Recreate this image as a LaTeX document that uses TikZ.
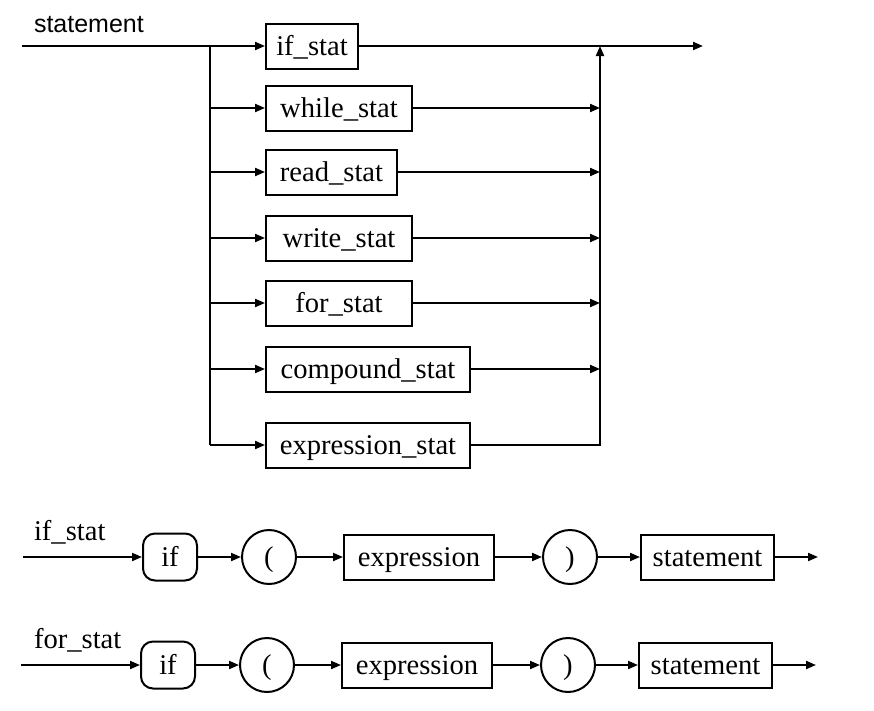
\documentclass[tikz,border=0pt]{standalone}
\usepackage{fontspec}
\setmainfont{Liberation Serif}
\setsansfont{Liberation Sans}
\usetikzlibrary{arrows.meta}
\tikzset{
    RA/.style ={rectangle,minimum width = #1, minimum height = 45pt, draw},
    CC/.style ={circle,minimum size = 54pt, draw},
    RR/.style ={rectangle,rounded corners=12pt,minimum width = 54pt, minimum height = 47pt, draw},
    AR/.style ={-{Triangle[length=10pt,width=8pt]}}}

\begin{document}
\begin{tikzpicture}[x=1pt,y=-1pt,line width=2pt,
    every node/.style={font=\fontsize{28.6}{34}\selectfont,text height=19.5pt,text depth=0pt,inner sep=0pt}]
        \useasboundingbox (0,0) rectangle (874,710);
        \node[anchor=base west,font=\sffamily\fontsize{25}{30}\selectfont] (lbl) at (33,32) {statement};
        \coordinate (in) at (22,46);
        \coordinate (sp) at (210,46);
        \coordinate (jn) at (600,46);
        \coordinate (out) at (703,46);
        \node[RA=92pt] (if) at (312,46) {if\_stat};
        \node[RA=146pt] (while) at (339,108) {while\_stat};
        \node[RA=131pt] (read) at (331.5,172) {read\_stat};
        \node[RA=146pt] (write) at (339,238) {write\_stat};
        \node[RA=146pt] (for) at (339,303) {for\_stat};
        \node[RA=204pt] (comp) at (368,369) {compound\_stat};
        \node[RA=204pt] (expr) at (368,445) {expression\_stat};
        \draw[AR] (in) -- (if);
        \draw (sp) -- (sp |- expr);
        \foreach \n in {while,read,write,for,comp,expr}
            \draw[AR] (sp |- \n) -- (\n);
        \foreach \n in {while,read,write,for,comp}
            \draw[AR] (\n) -- (jn |- \n);
        \draw[AR] (expr) -| (jn);
        \draw[AR] (if) -- (out);
        \foreach \lab/\yy/\dx/\k in {if\_stat/557/0/a,for\_stat/665/-2/b}{
            \node[anchor=base west] (lab\k) at (33,\yy-16.5) {\lab};
            \coordinate (s\k) at (23+\dx,\yy);
            \node[RR] (if\k) at (170+\dx,\yy) {if};
            \node[CC] (lp\k) at (269+\dx,\yy) {(};
            \node[RA=150pt] (ex\k) at (419+\dx,\yy) {expression};
            \node[CC] (rp\k) at (570+\dx,\yy) {)};
            \node[RA=133pt] (st\k) at (707.5+\dx,\yy) {statement};
            \coordinate (e\k) at (818+\dx,\yy);
            \draw[AR] (s\k) -- (if\k);
            \draw[AR] (if\k) -- (lp\k);
            \draw[AR] (lp\k) -- (ex\k);
            \draw[AR] (ex\k) -- (rp\k);
            \draw[AR] (rp\k) -- (st\k);
            \draw[AR] (st\k) -- (e\k);
        }
    \end{tikzpicture}
\end{document}
